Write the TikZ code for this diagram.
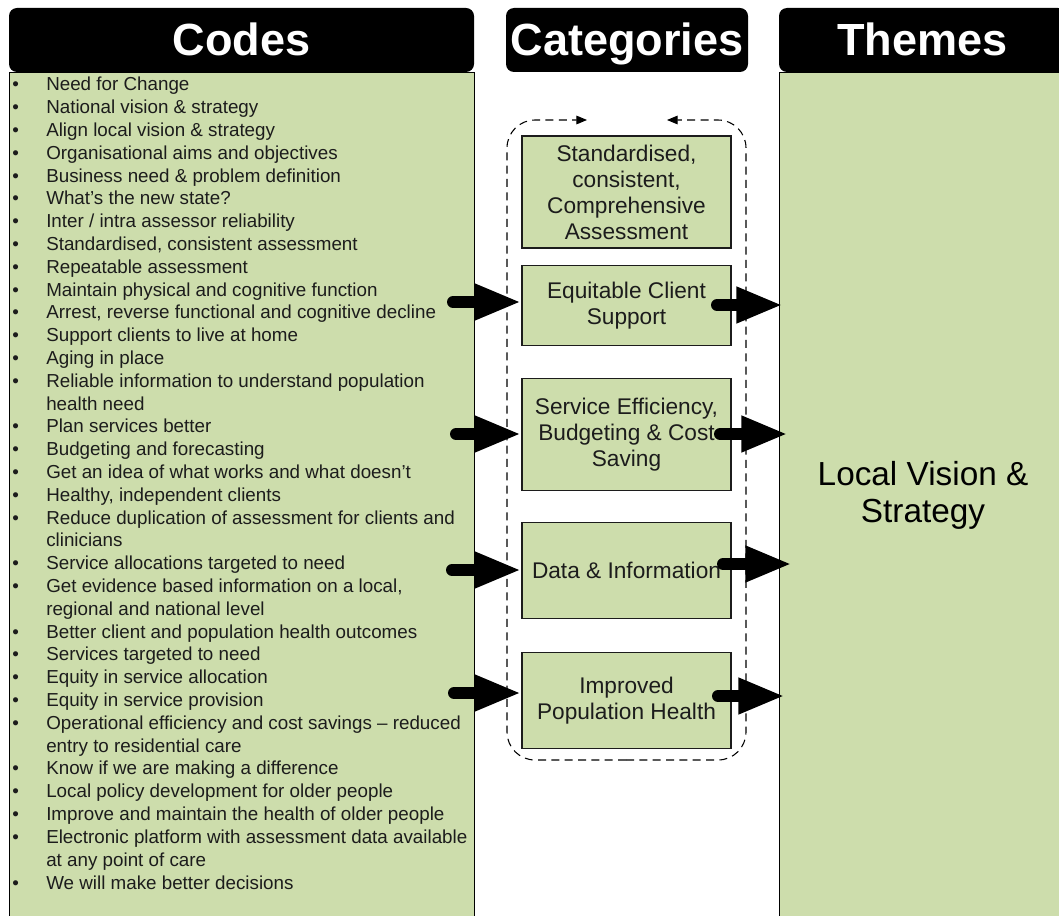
\documentclass[tikz,border=0pt]{standalone}
\usepackage{fontspec}
\setmainfont{Liberation Sans}
\usepackage{tikz}
\usetikzlibrary{positioning}
\usetikzlibrary{arrows.meta}
\definecolor{sagegreen}{RGB}{205,221,172}
\definecolor{inkgrey}{RGB}{28,28,28}
\tikzstyle{headbox} = [rectangle, rounded corners=6pt, fill=black, text=white, inner sep=0pt, text height=24pt, text depth=0pt, minimum height=48pt, font=\fontsize{33.8pt}{36pt}\selectfont\bfseries]
\tikzstyle{panel}    = [rectangle, draw=black, fill=sagegreen, line width=0.8pt, anchor=north west, inner sep=0pt]
\tikzstyle{category} = [rectangle, draw=inkgrey, fill=sagegreen, line width=0.9pt, minimum width=156.75pt, align=center, text=inkgrey, font=\fontsize{17pt}{19.5pt}\selectfont]
\tikzstyle{ring}     = [draw, line width=0.8pt, dash pattern=on 6pt off 4pt, rounded corners=21pt, -{Triangle[length=8pt,width=6.5pt]}]
\tikzstyle{fat}      = [draw, line width=9pt, line cap=round, -{Triangle[length=35pt,width=25pt]}]
\newcommand{\itm}{\makebox[25.5pt][l]{\textbullet}}
\newcommand{\cnt}{\hspace*{25.5pt}}
\begin{document}
\begin{tikzpicture}[x=0.75pt, y=-0.75pt]
	\useasboundingbox (0,0) rectangle (1059,916);

	% column headers
	\node [headbox, minimum width=348.75pt] (codeshead)  at (241.5,40) {Codes};
	\node [headbox, minimum width=181.5pt]  (cathead)    at (627,40)   {Categories};
	\node [headbox, minimum width=215.25pt] (themeshead) at (922.5,40) {Themes};

	% side panels
	\node [panel, minimum width=348.75pt, minimum height=634.5pt] (codebox) at (9,72) {};
	\node [panel, minimum width=215.25pt, minimum height=634.5pt, font=\fontsize{25pt}{28pt}\selectfont, align=center, text=black] (themebox) at (779,72) {Local Vision \&\\Strategy};

	% list of codes
	\node [anchor=base west, inner sep=0pt, text=inkgrey, font=\fontsize{14.1pt}{17.1pt}\selectfont] (codelist) at (12,91) {%
	\begin{tabular}[t]{@{}l@{}}
	\itm Need for Change\\
	\itm National vision \& strategy\\
	\itm Align local vision \& strategy\\
	\itm Organisational aims and objectives\\
	\itm Business need \& problem definition\\
	\itm What's the new state?\\
	\itm Inter / intra assessor reliability\\
	\itm Standardised, consistent assessment\\
	\itm Repeatable assessment\\
	\itm Maintain physical and cognitive function\\
	\itm Arrest, reverse functional and cognitive decline\\
	\itm Support clients to live at home\\
	\itm Aging in place\\
	\itm Reliable information to understand population\\
	\cnt health need\\
	\itm Plan services better\\
	\itm Budgeting and forecasting\\
	\itm Get an idea of what works and what doesn't\\
	\itm Healthy, independent clients\\
	\itm Reduce duplication of assessment for clients and\\
	\cnt clinicians\\
	\itm Service allocations targeted to need\\
	\itm Get evidence based information on a local,\\
	\cnt regional and national level\\
	\itm Better client and population health outcomes\\
	\itm Services targeted to need\\
	\itm Equity in service allocation\\
	\itm Equity in service provision\\
	\itm Operational efficiency and cost savings -- reduced\\
	\cnt entry to residential care\\
	\itm Know if we are making a difference\\
	\itm Local policy development for older people\\
	\itm Improve and maintain the health of older people\\
	\itm Electronic platform with assessment data available\\
	\cnt at any point of care\\
	\itm We will make better decisions
	\end{tabular}};

	% dashed loop round the categories
	\path [ring] (626,760) -| (507,120) -- (587,120);
	\path [ring] (626,760) -| (746,120) -- (667,120);

	% category boxes
	\node [category, minimum height=84pt] (cat1) at (626.5,192) {Standardised,\\consistent,\\Comprehensive\\Assessment};
	\node [category, minimum height=60pt, below=12pt of cat1]    (cat2) {Equitable Client\\Support};
	\node [category, minimum height=84pt, below=24pt of cat2]    (cat3) {Service Efficiency,\\Budgeting \& Cost\\Saving};
	\node [category, minimum height=72pt, below=23.25pt of cat3] (cat4) {Data \& Information};
	\node [category, minimum height=72pt, below=24.75pt of cat4] (cat5) {Improved\\Population Health};

	% arrow ends
	\coordinate (in2)  at (453,302);
	\coordinate (in3)  at (456,434);
	\coordinate (in4)  at (452,570);
	\coordinate (in5)  at (454,693);
	\coordinate (out2) at (717,305);
	\coordinate (out3) at (720,434);
	\coordinate (out4) at (723,564);
	\coordinate (out5) at (718,696);
	\coordinate (tip2) at (783,305);
	\coordinate (tip3) at (788,434);
	\coordinate (tip4) at (792,564);
	\coordinate (tip5) at (785,696);

	% draw arrows
	\path [fat] (in2) -- (in2 -| cat2.west);
	\path [fat] (in3) -- (in3 -| cat3.west);
	\path [fat] (in4) -- (in4 -| cat4.west);
	\path [fat] (in5) -- (in5 -| cat5.west);

	\path [fat] (out2) -- (tip2);
	\path [fat] (out3) -- (tip3);
	\path [fat] (out4) -- (tip4);
	\path [fat] (out5) -- (tip5);
\end{tikzpicture}
\end{document}
